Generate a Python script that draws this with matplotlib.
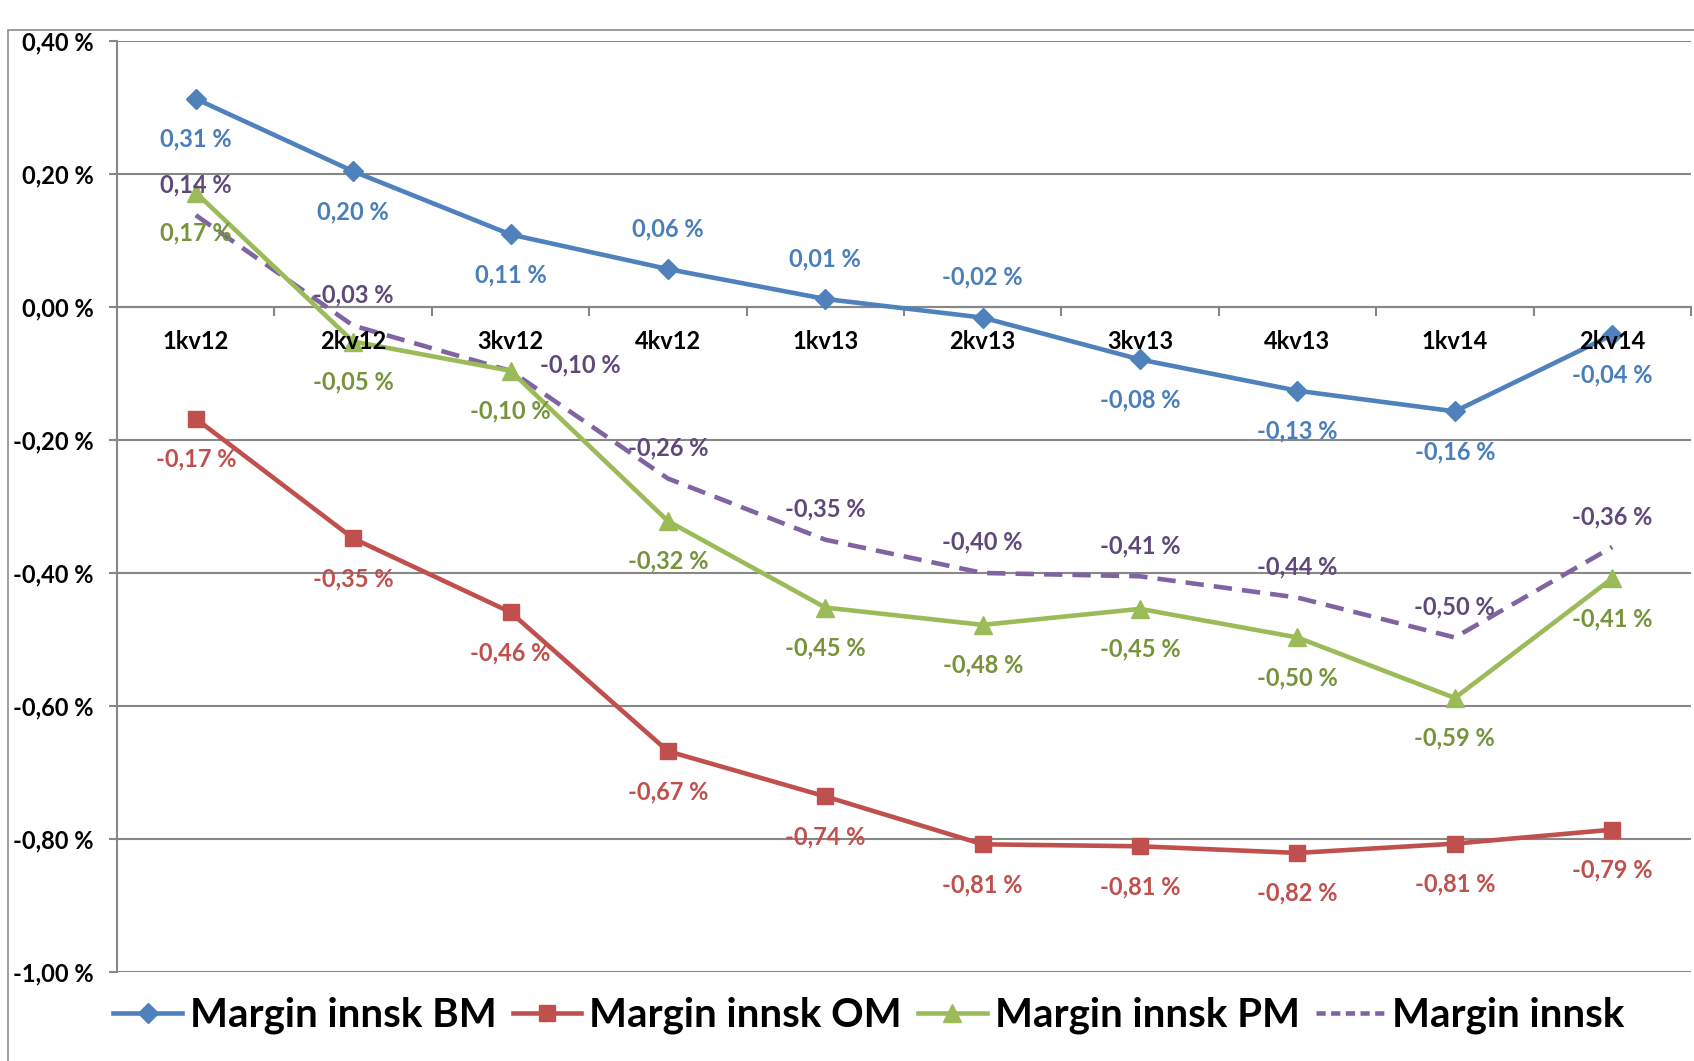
import matplotlib
matplotlib.use("Agg")
import matplotlib.pyplot as plt
from matplotlib.lines import Line2D
from matplotlib.patches import Rectangle

plt.rcParams["font.family"] = ["Lato", "DejaVu Sans"]

kvartal = ["1kv12", "2kv12", "3kv12", "4kv12", "1kv13", "2kv13", "3kv13", "4kv13", "1kv14", "2kv14"]
bm = [0.313, 0.204, 0.109, 0.057, 0.012, -0.016, -0.079, -0.126, -0.157, -0.042]
om = [-0.168, -0.348, -0.459, -0.668, -0.736, -0.808, -0.811, -0.821, -0.807, -0.786]
pm = [0.172, -0.052, -0.096, -0.322, -0.452, -0.478, -0.454, -0.497, -0.588, -0.408]
innsk = [0.138, -0.028, -0.096, -0.258, -0.350, -0.400, -0.405, -0.437, -0.497, -0.361]
yticks = [0.4, 0.2, 0.0, -0.2, -0.4, -0.6, -0.8, -1.0]

# label placement per point: +1 below, -1 above, "r" right
bm_pos = [1, 1, 1, -1, -1, -1, 1, 1, 1, 1]
innsk_pos = [-1, -1, "r", -1, -1, -1, -1, -1, -1, -1]

C_BM, C_OM, C_PM, C_IN = "#4F81BD", "#C0504D", "#9BBB59", "#8064A2"
L_BM, L_OM, L_PM, L_IN = "#4A7EBB", "#C0504D", "#77933C", "#5F497A"
GRID = "#878787"
FS = 17


def fmt(v):
    return f"{v:.2f} %".replace(".", ",")


fig = plt.figure(figsize=(16.94, 10.61), dpi=100)
fig.patches.append(Rectangle((0.005, -0.01), 1.1, 0.9815, transform=fig.transFigure,
                             fill=False, edgecolor="#8c8c8c", lw=1.2))
ax = fig.add_axes([0.0691, 0.0839, 0.9291, 0.8775])
x = list(range(len(kvartal)))

ax.plot(x, bm, color=C_BM, lw=3.3, marker="D", ms=10, zorder=4)
ax.plot(x, om, color=C_OM, lw=3.3, marker="s", ms=11, zorder=4)
ax.plot(x, pm, color=C_PM, lw=3.3, marker="^", ms=13, zorder=4)
ax.plot(x, innsk, color=C_IN, lw=3.3, ls=(0, (4, 2.2)), zorder=3)

lab = dict(ha="center", va="center", fontsize=FS, fontweight="bold", zorder=6,
           textcoords="offset points")
for i in x:
    ax.annotate(fmt(bm[i]), (i, bm[i]), xytext=(0, -29 * bm_pos[i]), color=L_BM, **lab)
    ax.annotate(fmt(om[i]), (i, om[i]), xytext=(0, -29), color=L_OM, **lab)
    ax.annotate(fmt(pm[i]), (i, pm[i]), xytext=(0, -29), color=L_PM, **lab)
    off = (50, 4) if innsk_pos[i] == "r" else (0, 22)
    ax.annotate(fmt(innsk[i]), (i, innsk[i]), xytext=off, color=L_IN, **lab)

ax.set_xlim(-0.5, len(kvartal) - 0.5)
ax.set_ylim(-1.0, 0.4)
ax.set_yticks(yticks)
ax.set_yticklabels([fmt(v) for v in yticks], fontsize=FS, fontweight="bold")
ax.yaxis.grid(True, color=GRID, lw=1.5)
ax.set_axisbelow(True)
for s in ("top", "right", "bottom"):
    ax.spines[s].set_visible(False)
ax.spines["left"].set_color(GRID)
ax.spines["left"].set_linewidth(1.5)
ax.tick_params(axis="y", length=6, color=GRID, width=1.5, pad=11)

# category axis sits on the zero line
ax.set_xticks([])
ax.axhline(0, color=GRID, lw=1.5, zorder=1)
for b in range(1, len(kvartal) + 1):
    ax.plot([b - 0.5, b - 0.5], [0, -0.012], color=GRID, lw=1.5, zorder=1, clip_on=False)
for i, k in enumerate(kvartal):
    ax.annotate(k, (i, 0), xytext=(0, -25), textcoords="offset points", ha="center",
                va="center", fontsize=FS, fontweight="bold", color="black", zorder=5)

handles = [
    Line2D([], [], color=C_BM, lw=3.3, marker="D", ms=10),
    Line2D([], [], color=C_OM, lw=3.3, marker="s", ms=11),
    Line2D([], [], color=C_PM, lw=3.3, marker="^", ms=13),
    Line2D([], [], color=C_IN, lw=3.3, ls=(0, (2, 1.2))),
]
names = ["Margin innsk BM", "Margin innsk OM", "Margin innsk PM", "Margin innsk"]
fig.legend(handles, names, loc="center", bbox_to_anchor=(0.513, 0.043), ncol=4, frameon=False,
           prop={"family": ["Lato", "DejaVu Sans"], "weight": "bold", "size": 29},
           handlelength=1.7, handletextpad=0.2, columnspacing=0.4)

fig.savefig("out.png", dpi=100)
